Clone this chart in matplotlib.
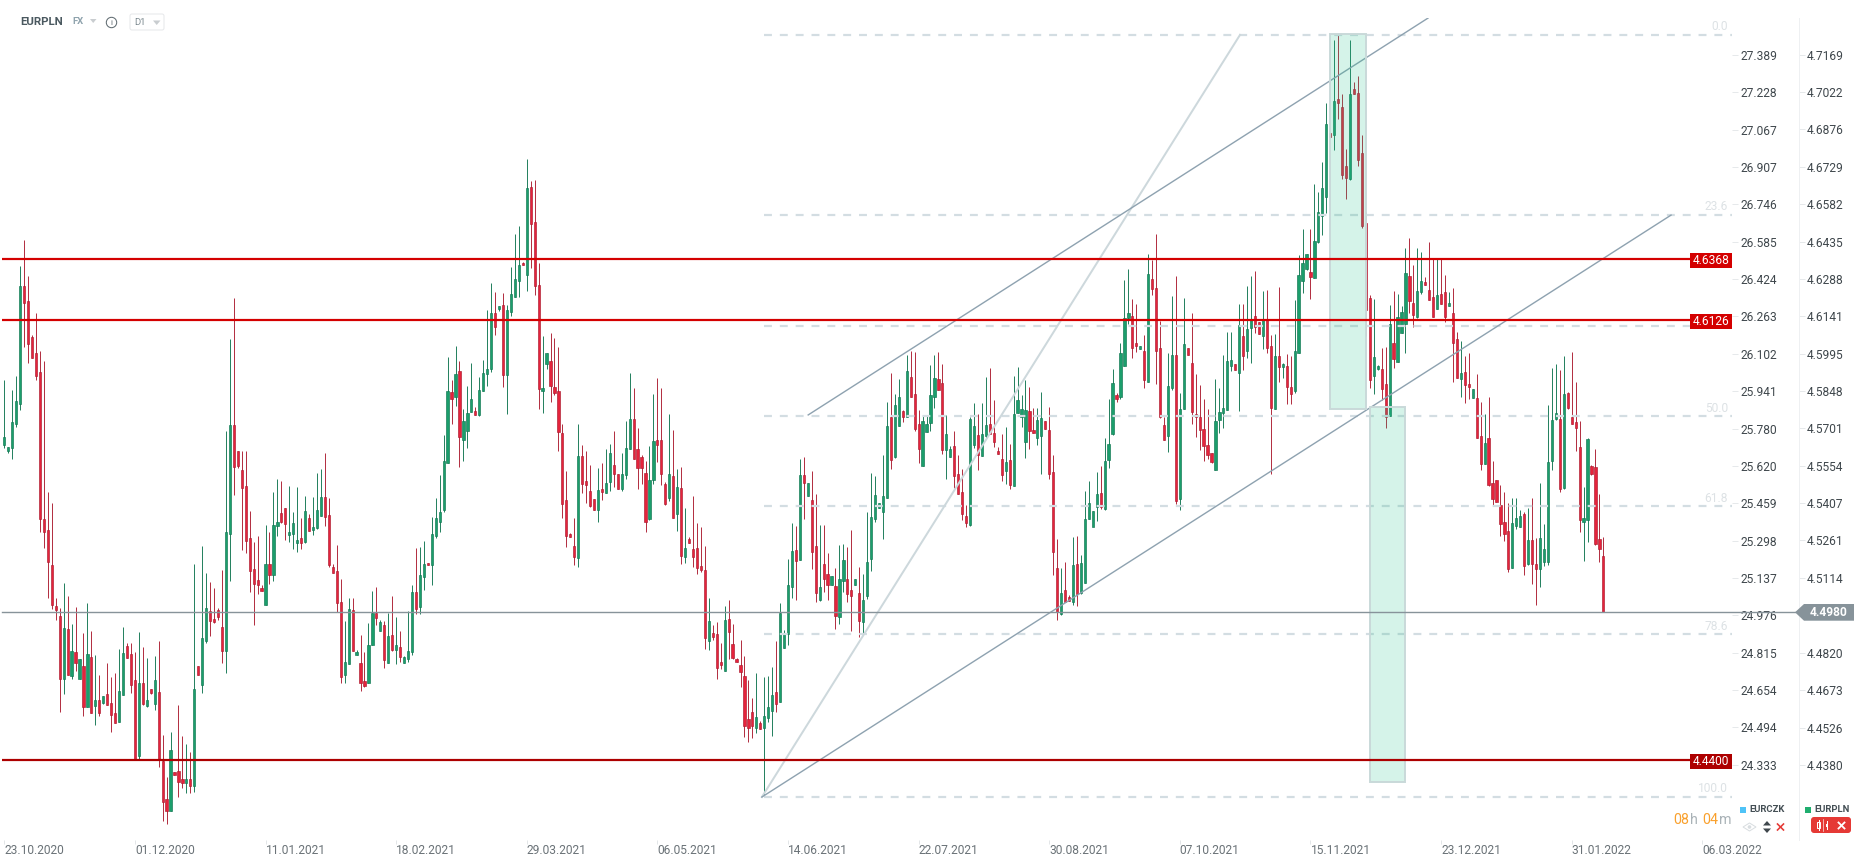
#!/usr/bin/env python3
"""EURPLN daily candles with channel, fibo levels and support/resistance lines."""

import matplotlib
matplotlib.use("Agg")
import matplotlib.pyplot as plt
from matplotlib.patches import Circle, FancyBboxPatch, Polygon, Rectangle
import numpy as np

plt.rcParams["font.family"] = ["Roboto", "DejaVu Sans"]

# ── candles, prices x 10000 ─────────────────────────────────────────────────
opens = [
    45636, 45612, 45624, 45719, 45797, 46261, 46202, 46060, 45997, 45923,
    45345, 45302, 45165, 45004, 44964, 44717, 44913, 44729, 44823, 44717,
    44768, 44607, 44803, 44611, 44634, 44623, 44658, 44623, 44583, 44548,
    44654, 44846, 44815, 44713, 44414, 44701, 44611, 44678, 44619, 44666,
    44395, 44246, 44198, 44351, 44355, 44324, 44308, 44324, 44297, 44768,
    44693, 44866, 44984, 44953, 44988, 44921, 44827, 45286, 45715, 45612,
    45538, 45475, 45271, 45149, 45106, 45074, 45008, 45169, 45125, 45318,
    45369, 45389, 45283, 45286, 45251, 45271, 45255, 45349, 45302, 45310,
    45357, 45432, 45361, 45157, 45141, 45019, 44733, 44776, 44988, 44811,
    44780, 44709, 44701, 44850, 44976, 44905, 44929, 44780, 44890, 44831,
    44843, 44780, 44795, 44823, 45059, 45000, 45118, 45172, 45165, 45279,
    45333, 45381, 45565, 45844, 45825, 45927, 45656, 45691, 45766, 45769,
    45754, 45848, 45915, 45935, 46155, 46170, 46186, 45911, 46158, 46217,
    46280, 46351, 46304, 46650, 46512, 46265, 45848, 45954, 45966, 45864,
    45848, 45683, 45420, 45286, 45239, 45192, 45593, 45494, 45455, 45424,
    45381, 45463, 45448, 45491, 45557, 45522, 45463, 45518, 45620, 45738,
    45620, 45589, 45526, 45345, 45499, 45656, 45656, 45483, 45428, 45514,
    45365, 45467, 45196, 45267, 45228, 45231, 45161, 45145, 44866, 44898,
    44894, 44784, 44748, 44953, 44854, 44795, 44772, 44729, 44560, 44587,
    44524, 44544, 44524, 44564, 44591, 44666, 44627, 44839, 44894, 45078,
    45224, 45184, 45518, 45436, 45420, 45239, 45027, 45169, 45129, 45086,
    45082, 44960, 45102, 45110, 45066, 45086, 45055, 44941, 45043, 45188,
    45345, 45389, 45373, 45428, 45746, 45589, 45711, 45769, 45746, 45903,
    45836, 45718, 45554, 45687, 45722, 45825, 45895, 45880, 45616, 45589,
    45632, 45522, 45451, 45357, 45322, 45636, 45675, 45593, 45671, 45718,
    45683, 45612, 45581, 45534, 45577, 45475, 45762, 45746, 45648, 45769,
    45695, 45664, 45671, 45730, 45695, 45530, 45153, 44972, 45066, 45039,
    45019, 45169, 45055, 45094, 45345, 45314, 45392, 45448, 45385, 45577,
    45679, 45833, 45825, 45946, 46135, 46143, 46037, 46013, 46005, 45884,
    46288, 46253, 46017, 45714, 45671, 45860, 45990, 45424, 45777, 46017,
    45958, 45758, 45746, 45699, 45636, 45605, 45538, 45734, 45762, 45773,
    45946, 45954, 45919, 46064, 46005, 46096, 46143, 46119, 46064, 46127,
    46025, 45777, 45986, 45942, 45946, 45864, 45848, 45997, 46280, 46327,
    46316, 46292, 46433, 46536, 46610, 46862, 46854, 46995, 46964, 46732,
    46681, 47034, 47019, 46783, 46508, 46214, 45907, 45935, 45935, 45876,
    45750, 46037, 45962, 46076, 46111, 46300, 46194, 46139, 46237, 46276,
    46245, 46217, 46170, 46229, 46237, 46182, 46155, 46052, 45895, 45923,
    45876, 45821, 45821, 45671, 45561, 45664, 45487, 45499, 45400, 45334,
    45298, 45153, 45318, 45314, 45365, 45169, 45263, 45169, 45149, 45176,
    45176, 45573, 45738, 45738, 45467, 45840, 45746, 45726, 45628, 45333,
    45341, 45554, 45550, 45267, 45200,
]
highs = [
    45891, 45628, 45852, 45907, 46339, 46441, 46300, 46068, 46155, 46005,
    45966, 45451, 45408, 45035, 44996, 45094, 45043, 44933, 45000, 44795,
    44897, 45016, 44905, 44811, 44732, 44650, 44780, 44725, 44740, 44835,
    44921, 44858, 44858, 44823, 44901, 44842, 44799, 44678, 44807, 44866,
    44497, 44332, 44509, 44351, 44615, 44493, 44462, 44430, 45169, 44768,
    45239, 45133, 45098, 45074, 44996, 45145, 45691, 46052, 46214, 45612,
    45612, 45612, 45377, 45255, 45279, 45086, 45322, 45294, 45451, 45502,
    45495, 45389, 45475, 45373, 45471, 45349, 45436, 45365, 45432, 45526,
    45542, 45605, 45428, 45169, 45243, 45110, 44945, 45035, 45035, 44831,
    44890, 44823, 44937, 45063, 45078, 44949, 44945, 44976, 45043, 44960,
    44905, 44807, 44984, 45086, 45231, 45235, 45259, 45172, 45353, 45428,
    45518, 45675, 45982, 45891, 46025, 45966, 45777, 45868, 45958, 45785,
    45903, 45970, 46166, 46272, 46237, 46182, 46233, 46186, 46335, 46465,
    46496, 46355, 46759, 46673, 46677, 46351, 46064, 45997, 46076, 46056,
    46021, 45718, 45534, 45290, 45349, 45718, 45636, 45612, 45557, 45424,
    45546, 45565, 45620, 45640, 45691, 45522, 45605, 45730, 45919, 45860,
    45703, 45597, 45573, 45632, 45836, 45899, 45860, 45491, 45758, 45695,
    45542, 45550, 45389, 45275, 45436, 45330, 45314, 45239, 45035, 44929,
    44941, 44858, 45004, 45027, 44933, 44799, 44870, 44807, 44713, 44642,
    44740, 44552, 44725, 44729, 44764, 44866, 45016, 44909, 45188, 45330,
    45318, 45581, 45589, 45487, 45534, 45443, 45322, 45322, 45212, 45122,
    45153, 45243, 45247, 45235, 45302, 45110, 45157, 45129, 45373, 45526,
    45514, 45408, 45597, 45805, 45919, 45836, 45895, 45773, 45990, 46005,
    46001, 45773, 45754, 45754, 45950, 45990, 46001, 45954, 45754, 45632,
    45691, 45597, 45542, 45400, 45746, 45801, 45758, 45801, 45903, 45938,
    45813, 45628, 45679, 45707, 45640, 45907, 45942, 45832, 45891, 45864,
    45781, 45781, 45844, 45730, 45785, 45597, 45267, 45153, 45177, 45047,
    45275, 45279, 45204, 45455, 45495, 45377, 45530, 45554, 45664, 45817,
    45935, 45840, 46037, 46284, 46327, 46210, 46190, 46025, 46068, 46386,
    46363, 46465, 46123, 45746, 45997, 46221, 46300, 45840, 46214, 46017,
    46155, 45915, 45872, 45817, 45777, 45605, 45895, 45860, 45990, 46080,
    46080, 45954, 46190, 46190, 46261, 46300, 46319, 46119, 46241, 46245,
    46068, 46072, 46257, 45958, 45993, 45985, 46206, 46382, 46484, 46386,
    46484, 46661, 46630, 46748, 46979, 46862, 47227, 47247, 47015, 46799,
    47227, 47062, 47085, 46854, 46551, 46225, 46210, 45950, 46017, 46021,
    46186, 46241, 46229, 46182, 46410, 46449, 46343, 46410, 46394, 46296,
    46433, 46367, 46367, 46367, 46304, 46237, 46253, 46080, 46045, 45985,
    45997, 45856, 45915, 45805, 45758, 45825, 45573, 45499, 45479, 45451,
    45408, 45428, 45428, 45381, 45373, 45389, 45428, 45271, 45487, 45326,
    45793, 45938, 45954, 45931, 45985, 45844, 46001, 45884, 45730, 45471,
    45664, 45557, 45620, 45443, 45275,
]
lows = [
    45624, 45605, 45581, 45707, 45773, 46021, 45958, 45978, 45891, 45294,
    45231, 45035, 44992, 44949, 44587, 44658, 44732, 44717, 44748, 44717,
    44572, 44607, 44583, 44536, 44572, 44619, 44615, 44509, 44544, 44548,
    44654, 44799, 44662, 44403, 44399, 44615, 44607, 44658, 44595, 44371,
    44159, 44147, 44198, 44340, 44253, 44289, 44269, 44269, 44273, 44732,
    44662, 44858, 44886, 44937, 44949, 44780, 44740, 45102, 45440, 45546,
    45224, 45212, 45059, 44929, 45051, 45063, 45007, 45090, 45102, 45279,
    45330, 45263, 45255, 45228, 45216, 45228, 45251, 45298, 45283, 45306,
    45357, 45318, 45157, 45133, 44980, 44701, 44701, 44776, 44827, 44811,
    44670, 44686, 44701, 44850, 44929, 44905, 44760, 44780, 44827, 44776,
    44784, 44780, 44784, 44811, 44972, 44972, 45066, 45165, 45086, 45271,
    45294, 45373, 45565, 45718, 45789, 45550, 45573, 45624, 45766, 45754,
    45750, 45848, 45868, 45923, 46068, 46162, 45864, 45758, 46143, 46217,
    46217, 46343, 46241, 46331, 46225, 45777, 45762, 45935, 45805, 45832,
    45612, 45349, 45235, 45275, 45165, 45157, 45448, 45408, 45392, 45381,
    45334, 45420, 45448, 45455, 45471, 45463, 45455, 45502, 45620, 45581,
    45463, 45483, 45294, 45341, 45483, 45569, 45479, 45400, 45416, 45349,
    45298, 45169, 45172, 45251, 45157, 45129, 45137, 44835, 44831, 44870,
    44717, 44756, 44748, 44795, 44795, 44784, 44686, 44489, 44469, 44485,
    44505, 44520, 44261, 44548, 44493, 44587, 44627, 44839, 44850, 45035,
    45027, 45184, 45345, 45436, 45149, 45019, 45023, 45059, 45027, 45086,
    44913, 44933, 45059, 45019, 44905, 45086, 44882, 44897, 45031, 45141,
    45334, 45389, 45267, 45428, 45542, 45585, 45711, 45726, 45746, 45825,
    45691, 45565, 45554, 45687, 45691, 45781, 45852, 45601, 45502, 45589,
    45467, 45443, 45341, 45314, 45318, 45624, 45538, 45593, 45664, 45679,
    45628, 45601, 45495, 45483, 45463, 45475, 45762, 45707, 45585, 45620,
    45683, 45636, 45522, 45699, 45502, 45125, 44949, 44968, 45019, 45023,
    45007, 45004, 45051, 45094, 45345, 45318, 45338, 45385, 45381, 45546,
    45675, 45805, 45817, 45946, 46111, 45978, 46001, 46013, 45860, 45884,
    46225, 45876, 45742, 45656, 45608, 45852, 45404, 45381, 45777, 45990,
    45718, 45667, 45616, 45573, 45581, 45565, 45538, 45683, 45703, 45773,
    45927, 45931, 45770, 45931, 45978, 45958, 46076, 46072, 46013, 45997,
    45522, 45777, 45884, 45899, 45797, 45797, 45840, 45997, 46233, 46323,
    46210, 46292, 46429, 46461, 46547, 46846, 46795, 46917, 46681, 46602,
    46677, 47015, 46732, 46488, 46064, 45860, 45836, 45931, 45813, 45703,
    45750, 45938, 45962, 46076, 45997, 46155, 46100, 46135, 46229, 46265,
    46206, 46139, 46170, 46190, 46119, 46182, 45884, 45899, 45825, 45801,
    45817, 45821, 45664, 45538, 45561, 45475, 45400, 45412, 45279, 45259,
    45137, 45153, 45306, 45314, 45125, 45165, 45090, 45007, 45078, 45161,
    45165, 45538, 45734, 45451, 45463, 45777, 45718, 45612, 45294, 45180,
    45255, 45518, 45243, 45176, 44980,
]
closes = [
    45667, 45628, 45726, 45809, 46261, 46194, 46033, 45978, 45907, 45345,
    45294, 45176, 45008, 44988, 44717, 44917, 44733, 44827, 44780, 44795,
    44607, 44815, 44583, 44634, 44583, 44650, 44615, 44576, 44544, 44670,
    44819, 44799, 44693, 44403, 44701, 44619, 44634, 44662, 44713, 44399,
    44234, 44198, 44438, 44340, 44312, 44308, 44324, 44297, 44678, 44733,
    44878, 44996, 44945, 44941, 44960, 44827, 45294, 45715, 45550, 45554,
    45467, 45259, 45141, 45090, 45086, 45063, 45169, 45125, 45322, 45333,
    45333, 45326, 45294, 45330, 45263, 45251, 45377, 45298, 45314, 45381,
    45432, 45353, 45165, 45133, 45015, 44725, 44784, 44992, 44827, 44823,
    44701, 44689, 44850, 44976, 44956, 44941, 44791, 44886, 44831, 44850,
    44803, 44803, 44827, 45059, 44992, 45125, 45169, 45165, 45286, 45349,
    45373, 45573, 45848, 45817, 45915, 45667, 45730, 45762, 45817, 45754,
    45852, 45919, 45935, 46155, 46100, 46182, 45911, 46166, 46229, 46288,
    46343, 46343, 46646, 46504, 46261, 45856, 45860, 45997, 45868, 45840,
    45687, 45404, 45278, 45275, 45196, 45593, 45483, 45479, 45396, 45381,
    45459, 45451, 45487, 45605, 45522, 45463, 45522, 45624, 45738, 45581,
    45546, 45546, 45333, 45499, 45652, 45636, 45522, 45404, 45522, 45349,
    45471, 45200, 45231, 45251, 45196, 45153, 45145, 44878, 44945, 44882,
    44760, 44772, 44949, 44901, 44799, 44784, 44744, 44532, 44524, 44532,
    44568, 44520, 44572, 44607, 44654, 44619, 44976, 44894, 45086, 45220,
    45180, 45518, 45487, 45487, 45216, 45055, 45078, 45110, 45086, 45122,
    44964, 45110, 45184, 45051, 45043, 45110, 44945, 45027, 45176, 45353,
    45439, 45408, 45436, 45711, 45577, 45793, 45825, 45746, 45927, 45825,
    45699, 45620, 45730, 45718, 45832, 45899, 45852, 45616, 45679, 45620,
    45514, 45443, 45365, 45330, 45738, 45711, 45597, 45679, 45714, 45679,
    45648, 45601, 45518, 45569, 45479, 45758, 45813, 45777, 45773, 45691,
    45683, 45734, 45742, 45699, 45522, 45216, 44980, 45055, 45019, 45023,
    45165, 45051, 45173, 45345, 45408, 45377, 45444, 45392, 45573, 45640,
    45880, 45817, 45997, 46135, 46155, 46017, 46025, 46025, 45891, 46308,
    46249, 46005, 45746, 45656, 45868, 45990, 45416, 45777, 46033, 45990,
    45766, 45746, 45695, 45632, 45597, 45569, 45730, 45766, 45781, 45966,
    45970, 45931, 46107, 45986, 46092, 46131, 46100, 46072, 46131, 46017,
    45781, 45986, 45942, 45954, 45864, 45836, 46005, 46304, 46351, 46386,
    46296, 46437, 46551, 46646, 46897, 46846, 46987, 46979, 46697, 46685,
    47015, 47015, 46756, 46496, 46166, 45891, 45982, 45946, 45856, 45746,
    46111, 45974, 46139, 46158, 46312, 46202, 46147, 46241, 46280, 46265,
    46206, 46139, 46225, 46190, 46139, 46194, 46037, 45899, 45919, 45872,
    45864, 45856, 45664, 45561, 45644, 45479, 45424, 45412, 45326, 45286,
    45149, 45329, 45349, 45357, 45161, 45263, 45169, 45149, 45271, 45228,
    45569, 45734, 45762, 45463, 45836, 45781, 45719, 45703, 45341, 45349,
    45660, 45522, 45247, 45228, 44980,
]

date_labels = ["23.10.2020", "01.12.2020", "11.01.2021", "18.02.2021", "29.03.2021",
               "06.05.2021", "14.06.2021", "22.07.2021", "30.08.2021", "07.10.2021",
               "15.11.2021", "23.12.2021", "31.01.2022", "06.03.2022"]
date_ticks = [0, 33, 66, 99, 132, 165, 198, 231, 264, 297, 330, 363, 396, 429]

pln_ticks = [4.7169, 4.7022, 4.6876, 4.6729, 4.6582, 4.6435, 4.6288, 4.6141, 4.5995, 4.5848,
             4.5701, 4.5554, 4.5407, 4.5261, 4.5114, 4.4820, 4.4673, 4.4526, 4.4380]
czk_ticks = [27.389, 27.228, 27.067, 26.907, 26.746, 26.585, 26.424, 26.263, 26.102, 25.941,
             25.780, 25.620, 25.459, 25.298, 25.137, 24.976, 24.815, 24.654, 24.494, 24.333]

levels = [4.6368, 4.6126, 4.4400]
last_price = 4.4980

fibo_levels = [4.7247, 4.6539, 4.6102, 4.5749, 4.5396, 4.4892, 4.4253]
fibo_names = ["0.0", "23.6", "", "50.0", "61.8", "78.6", "100.0"]

# trend lines as (candle number, price)
fan_x, fan_y = [191.4, 312.2], [4.4253, 4.7247]
lower_x, lower_y = [191.4, 421.1], [4.4253, 4.6539]
upper_x, upper_y = [203.1, 359.7], [4.5754, 4.7313]

# ── colours ─────────────────────────────────────────────────────────────────
C_UP = "#1b9e6c"
C_UP_EDGE = "#0f7550"
C_DOWN = "#e5233c"
C_DOWN_EDGE = "#ab1a2e"
C_RED = "#d40000"
C_DARK_RED = "#ad0000"
C_GREY = "#87939a"
C_FIBO = "#d3dde2"
C_TEXT = "#3f474c"
C_DATE = "#6a7277"

PX = 0.72  # one pixel in points at dpi 100
FS = 12 * PX

fig = plt.figure(figsize=(18.66, 8.65), dpi=100, facecolor="white")
ax = fig.add_axes([0, (865 - 839.5) / 865, 1732 / 1866, (839.5 - 18) / 865])
ax.set_xlim(-1.086, 436.5)
ax.set_ylim(4.40862, 4.73133)
for side in ax.spines.values():
    side.set_visible(False)

o = np.array(opens) / 10000
h = np.array(highs) / 10000
l = np.array(lows) / 10000
c = np.array(closes) / 10000
x = np.arange(len(o))
up = c >= o

ax.vlines(x[up], l[up], h[up], color=C_UP_EDGE, lw=0.9 * PX, zorder=2)
ax.vlines(x[~up], l[~up], h[~up], color=C_DOWN_EDGE, lw=0.9 * PX, zorder=2)
ax.bar(x[up], (c - o)[up], bottom=o[up], width=0.56, color=C_UP, edgecolor=C_UP_EDGE, lw=0.45, zorder=3)
ax.bar(x[~up], (o - c)[~up], bottom=c[~up], width=0.56, color=C_DOWN, edgecolor=C_DOWN_EDGE, lw=0.45, zorder=3)

# fibo levels
for lev in fibo_levels:
    ax.plot([192, 436.5], [lev, lev], color=C_FIBO, lw=2.2 * PX, ls=(0, (3.6, 3.6)),
            dash_capstyle="butt", zorder=4)

# trend lines
ax.plot(fan_x, fan_y, color="#cdd8dc", lw=2 * PX, zorder=4)
ax.plot(lower_x, lower_y, color="#8ea2b0", lw=1.4 * PX, zorder=4)
ax.plot(upper_x, upper_y, color="#8ea2b0", lw=1.4 * PX, zorder=4)

# green boxes
ax.add_patch(Rectangle((334.9, 4.5777), 9.1, 0.1473, facecolor="#24c08c", alpha=0.19, zorder=5))
ax.add_patch(Rectangle((334.9, 4.5777), 9.1, 0.1473, facecolor="none", edgecolor="#c9d9d9", lw=1.4, zorder=5))
ax.add_patch(Rectangle((345.1, 4.4312), 8.8, 0.1473, facecolor="#24c08c", alpha=0.19, zorder=5))
ax.add_patch(Rectangle((345.1, 4.4312), 8.8, 0.1473, facecolor="none", edgecolor="#c9d9d9", lw=1.4, zorder=5))

# horizontal levels
ax.hlines(levels[:2], -0.6, 425.9, color=C_RED, lw=2.2 * PX, zorder=6)
ax.hlines(levels[2], -0.6, 425.9, color=C_DARK_RED, lw=2.2 * PX, zorder=6)
ax.plot([-0.6, 452.4], [last_price, last_price], color=C_GREY, lw=1.4 * PX, zorder=6, clip_on=False)

# date axis
ax.set_xticks(date_ticks)
ax.set_xticklabels(date_labels, ha="left", fontsize=FS, color=C_DATE)
ax.tick_params(axis="x", length=4 * PX, width=PX, color="#e3e6e8", pad=0)

# price axes
ax.set_yticks([])
k = (27.389 - 24.333) / (4.7169 - 4.4380)
czk = ax.secondary_yaxis(1.0, functions=(lambda v: 27.389 + (v - 4.7169) * k,
                                         lambda v: 4.7169 + (v - 27.389) / k))
czk.set_yticks(czk_ticks)
czk.set_yticklabels([f"{v:.3f}" for v in czk_ticks], fontsize=FS, color=C_TEXT)
czk.tick_params(length=6 * PX, width=PX, color="#e6e9eb", pad=2 * PX)
czk.spines["right"].set_visible(False)

pln = ax.secondary_yaxis(1798.7 / 1732, functions=(lambda v: v, lambda v: v))
pln.set_yticks(pln_ticks)
pln.set_yticklabels([f"{v:.4f}" for v in pln_ticks], fontsize=FS, color=C_TEXT)
pln.tick_params(length=6 * PX, width=PX, color="#e6e9eb", pad=2 * PX)
pln.spines["right"].set_color("#eef0f2")
pln.spines["right"].set_linewidth(PX)

# ── labels and controls, in figure pixels ───────────────────────────────────
ui = fig.add_axes([0, 0, 1, 1], facecolor="none", zorder=10)
ui.set_xlim(0, 1866)
ui.set_ylim(865, 0)
ui.axis("off")

# fibo names
fibo_text_y = [27, 207, 0, 408, 498, 626, 788.5]
for name, ty in zip(fibo_names, fibo_text_y):
    if name:
        ui.text(1728, ty, name, ha="right", va="center", fontsize=FS, color="#dde2e5")

# level tags
tags = [("4.6368", 260, C_RED), ("4.6126", 321.5, C_RED), ("4.4400", 761.5, C_DARK_RED)]
for label, ty, col in tags:
    ui.add_patch(Rectangle((1690, ty - 7.5), 42, 15, facecolor=col, edgecolor="none"))
    ui.text(1711, ty, label, ha="center", va="center", fontsize=FS, color="white")

ui.add_patch(Polygon([(1795, 612.3), (1804, 604), (1854, 604), (1854, 620.7), (1804, 620.7)],
                     facecolor=C_GREY, edgecolor="none"))
ui.text(1829, 612.5, "4.4980", ha="center", va="center", fontsize=FS, color="white", fontweight="bold")

# header
ui.text(20, 22, "EURPLN", ha="left", va="center", fontsize=11.5 * PX, fontweight="bold", color="#4b5960")
ui.text(72, 22, "FX", ha="left", va="center", fontsize=9.5 * PX, fontweight="bold", color="#8fa3ad")
ui.add_patch(Polygon([(90, 19), (96.5, 19), (93.2, 23)], facecolor="#c9cdd0", edgecolor="none"))
ui.add_patch(Circle((111.5, 22.5), 5.2, facecolor="none", edgecolor="#5b676d", lw=PX))
ui.text(111.5, 22.7, "i", ha="center", va="center", fontsize=8 * PX, color="#5b676d")
ui.add_patch(FancyBboxPatch((130, 14), 34, 16, boxstyle="round,pad=0,rounding_size=2",
                            facecolor="white", edgecolor="#e6e8ea", lw=PX))
ui.text(134.5, 22.5, "D1", ha="left", va="center", fontsize=9.5 * PX, color="#7d8a90")
ui.add_patch(Polygon([(153, 20.5), (160.5, 20.5), (156.7, 25)], facecolor="#c9cdd0", edgecolor="none"))

# bottom right legend and controls
ui.add_patch(Rectangle((1740, 807), 6, 6, facecolor="#4fc3f7", edgecolor="none"))
ui.text(1749, 810, "EURCZK", ha="left", va="center", fontsize=9.5 * PX, fontweight="bold", color="#444f55")
ui.add_patch(Rectangle((1805, 807), 6, 6, facecolor="#1fae6f", edgecolor="none"))
ui.text(1814, 810, "EURPLN", ha="left", va="center", fontsize=9.5 * PX, fontweight="bold", color="#444f55")

ui.add_patch(Polygon([(1743, 827), (1749.5, 823), (1756, 827), (1749.5, 831)],
                     facecolor="none", edgecolor="#d8dde0", lw=PX))
ui.add_patch(Circle((1749.5, 827), 1.8, facecolor="#d8dde0", edgecolor="none"))
ui.add_patch(Polygon([(1763, 825.5), (1771, 825.5), (1767, 821)], facecolor="#3f474c", edgecolor="none"))
ui.add_patch(Polygon([(1763, 828.5), (1771, 828.5), (1767, 833)], facecolor="#3f474c", edgecolor="none"))
ui.plot([1777.5, 1783.5], [824, 830], color="#e53935", lw=1.6 * PX)
ui.plot([1777.5, 1783.5], [830, 824], color="#e53935", lw=1.6 * PX)

ui.add_patch(FancyBboxPatch((1811, 817), 40, 16, boxstyle="round,pad=0,rounding_size=3",
                            facecolor="#e53935", edgecolor="none"))
ui.plot([1818.5, 1818.5], [820, 830], color="white", lw=PX)
ui.add_patch(Rectangle((1817, 822), 3, 6, facecolor="#e53935", edgecolor="white", lw=PX))
ui.plot([1823, 1823], [819, 831], color="white", lw=0.6 * PX)
ui.plot([1827, 1827], [821, 829], color="white", lw=PX)
ui.add_patch(Rectangle((1825.8, 823.5), 2.4, 3.5, facecolor="white", edgecolor="none"))
ui.plot([1838.5, 1844.5], [822.5, 828.5], color="white", lw=1.8 * PX)
ui.plot([1838.5, 1844.5], [828.5, 822.5], color="white", lw=1.8 * PX)

# candle timer
for tx, part, col in [(1673, "08", "#f9a02c"), (1690, "h", "#a9b2b7"), (1702, "04", "#f9a02c"), (1719, "m", "#a9b2b7")]:
    ui.text(tx, 820.5, part, ha="left", va="center", fontsize=14.3 * PX, color=col)

fig.savefig("out.png", dpi=100)
plt.close(fig)
